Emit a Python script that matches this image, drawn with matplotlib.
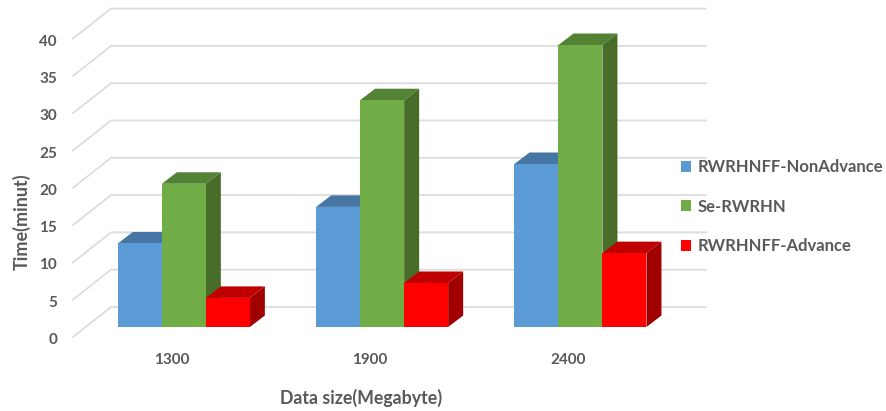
import numpy as np
import matplotlib
matplotlib.use('Agg')
import matplotlib.pyplot as plt
from matplotlib.patches import Patch

sizes = ['1300', '1900', '2400']
names = ['RWRHNFF-NonAdvance', 'Se-RWRHN', 'RWRHNFF-Advance']
nonadvance = [11.2, 16.1, 21.85]
serwrhn = [19.2, 30.4, 37.8]
advance = [3.9, 5.9, 9.9]
yticks = [0, 5, 10, 15, 20, 25, 30, 35, 40]

W, H = 886, 411
pxx = 198.3   # pixels per category
pxy = 7.46    # pixels per minute
x0 = 183.85   # pixel centre of first group
y0 = 327      # pixel of value 0 at the bar base

plt.rcParams['font.family'] = ['Lato', 'DejaVu Sans']
fig = plt.figure(figsize=(W / 100, H / 100), dpi=100)
ax = fig.add_axes([0, 0, 1, 1])
ax.set_xlim(-x0 / pxx, (W - x0) / pxx)
ax.set_ylim(-(H - y0) / pxy, y0 / pxy)
ax.axis('off')

bw = 44 / pxx
ddx = 15 / pxx    # bar depth
ddy = 11.5 / pxy

# walls: front edge, back edge, far right end
fx, fy = -110.85 / pxx, -10 / pxy
bx, by = -72.85 / pxx, 20 / pxy
rx = 522.15 / pxx
grid = '#DDDDDD'
for v in yticks:
    ax.plot([fx, bx, rx], [v + fy, v + by, v + by], color=grid, lw=1.3, zorder=1,
            solid_joinstyle='miter')
    ax.text(fx - 16 / pxx, v + fy - 3 / pxy, str(v), ha='right', va='center',
            fontsize=11, fontweight='bold', color='#595959')

series = [nonadvance, serwrhn, advance]
fronts = ['#5B9BD5', '#70AD47', '#FF0000']
tops = ['#4676A3', '#548235', '#BF0000']
sides = ['#3F6C96', '#476D28', '#A00000']

for j, vals in enumerate(series):
    for i, v in enumerate(vals):
        left = i + (j - 1.5) * bw
        right = left + bw
        z = 2 + j + i * 3
        ax.fill([left, right, right, left], [0, 0, v, v], color=fronts[j], lw=0, zorder=z + 0.2)
        ax.fill([left, right, right + ddx, left + ddx], [v, v, v + ddy, v + ddy],
                color=tops[j], lw=0, zorder=z)
        ax.fill([right, right + ddx, right + ddx, right], [0, ddy, v + ddy, v],
                color=sides[j], lw=0, zorder=z + 0.1)

for i, s in enumerate(sizes):
    ax.text(i - 12 / pxx, -33 / pxy, s, ha='center', va='center', fontsize=11,
            fontweight='bold', color='#595959')

ax.text(177 / pxx, -71 / pxy, 'Data size(Megabyte)', ha='center', va='center',
        fontsize=12.8, fontweight='bold', color='#595959')
ax.text(-162 / pxx, 105 / pxy, 'Time(minut)', ha='center', va='center', rotation=90,
        fontsize=13, fontweight='bold', color='#595959')

handles = [Patch(color=c, lw=0) for c in fronts]
leg = ax.legend(handles, names, loc='upper left', bbox_to_anchor=(676 / W, 1 - 154 / H),
                bbox_transform=fig.transFigure, frameon=False,
                prop={'weight': 'bold', 'size': 12},
                handlelength=0.62, handleheight=0.62, handletextpad=0.36,
                labelspacing=1.42, borderpad=0.3, borderaxespad=0)
for t in leg.get_texts():
    t.set_color('#595959')
leg.set_zorder(50)

fig.savefig('out.png', dpi=100)
